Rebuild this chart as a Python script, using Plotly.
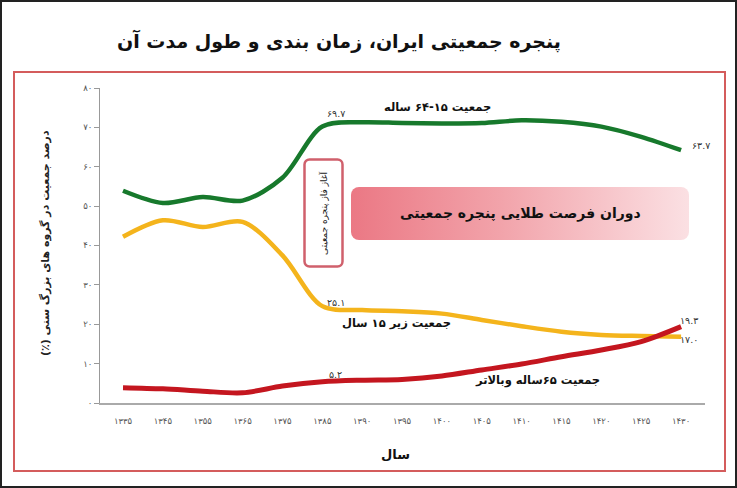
import base64
import plotly.graph_objects as go

# ---------------- data ----------------
years = ["۱۳۳۵", "۱۳۴۵", "۱۳۵۵", "۱۳۶۵", "۱۳۷۵", "۱۳۸۵", "۱۳۹۰", "۱۳۹۵",
         "۱۴۰۰", "۱۴۰۵", "۱۴۱۰", "۱۴۱۵", "۱۴۲۰", "۱۴۲۵", "۱۴۳۰"]
pop_15_64 = [53.9, 50.8, 52.3, 51.4, 57.2, 70.2, 71.3, 71.1, 71.0, 71.1, 71.8, 71.4, 70.2, 67.6, 64.2]
pop_under15 = [42.2, 46.4, 44.7, 46.0, 37.5, 24.6, 23.6, 23.3, 22.7, 21.1, 19.5, 18.1, 17.3, 17.0, 16.8]
pop_65plus = [3.9, 3.6, 3.0, 2.6, 4.3, 5.4, 5.8, 6.0, 6.85, 8.4, 9.9, 11.75, 13.45, 15.6, 19.4]
y_ticks = [0, 10, 20, 30, 40, 50, 60, 70, 80]
y_tick_text = ["۰", "۱۰", "۲۰", "۳۰", "۴۰", "۵۰", "۶۰", "۷۰", "۸۰"]

title_text = "پنجره جمعیتی ایران، زمان بندی و طول مدت آن"
x_title = "سال"
y_title = "درصد جمعیت در گروه های بزرگ سنی (٪)"
name_15_64 = "جمعیت ۱۵-۶۴ ساله"
name_under15 = "جمعیت زیر ۱۵ سال"
name_65plus = "جمعیت ۶۵ساله وبالاتر"
golden_text = "دوران فرصت طلایی پنجره جمعیتی"
start_text = "آغاز فاز پنجره جمعیتی"

FONT = "DejaVu Sans"
RLM = "\u200f"
W, H = 737, 488
L, R, T, B = 100, 32, 88, 85
PW, PH = W - L - R, H - T - B


def px(x):
    return (x - L) / PW


def py(y):
    return (H - B - y) / PH


def rtl(s):
    return RLM + s + RLM


def svg_uri(svg):
    return "data:image/svg+xml;base64," + base64.b64encode(svg.encode("utf-8")).decode()


fig = go.Figure()
for vals, color, wdt in [(pop_15_64, "#17792c", 4.5), (pop_under15, "#f4b41c", 4.5),
                         (pop_65plus, "#c4161f", 5)]:
    fig.add_trace(go.Scatter(x=years, y=vals, mode="lines",
                             line=dict(color=color, width=wdt, shape="spline", smoothing=0.9),
                             hoverinfo="skip", showlegend=False))

ann = []


def note(text, cx, cy, size, color="#111", bold=True, angle=0):
    ann.append(dict(text=rtl(text), x=px(cx), y=py(cy), xref="paper", yref="paper",
                    xanchor="center", yanchor="middle", showarrow=False, textangle=angle,
                    font=dict(size=size, color=color, family=FONT,
                              weight="bold" if bold else "normal")))


note(title_text, 339, 41, 19)
note(x_title, 395, 454, 13)
note(y_title, 45, 243, 11, color="#222", angle=-90)
note(name_15_64, 437, 107, 11.5)
note(name_under15, 396, 323, 11.5)
note(name_65plus, 537, 380, 11.5)
note(golden_text, 520, 213, 14)
note(start_text, 323, 213, 9, color="#222", bold=False, angle=-90)

# value labels anchored to data points
for txt, series, idx, xs, ys in [("۶۹.۷", pop_15_64, 5, 14, 13),
                                  ("۶۳.۷", pop_15_64, 14, 20, 5),
                                  ("۲۵.۱", pop_under15, 5, 14, 4),
                                  ("۱۷.۰", pop_under15, 14, 8, -3),
                                  ("۱۹.۳", pop_65plus, 14, 8, 6),
                                  ("۵.۲", pop_65plus, 5, 13, 7)]:
    ann.append(dict(text=txt, x=years[idx], y=series[idx], xref="x", yref="y",
                    xanchor="center", yanchor="middle",
                    xshift=xs, yshift=ys, showarrow=False,
                    font=dict(size=9.5, color="#333", family=FONT)))

golden_svg = ("<svg xmlns='http://www.w3.org/2000/svg' width='340' height='55' viewBox='0 0 340 55'>"
              "<defs><linearGradient id='g' x1='0' y1='0' x2='1' y2='0'>"
              "<stop offset='0' stop-color='#eb7884'/><stop offset='0.45' stop-color='#f2a4ab'/>"
              "<stop offset='1' stop-color='#fbe0e3'/></linearGradient></defs>"
              "<rect x='1' y='1' width='338' height='53' rx='8' ry='8' fill='url(#g)'/></svg>")
start_svg = ("<svg xmlns='http://www.w3.org/2000/svg' width='41' height='110' viewBox='0 0 41 110'>"
             "<rect x='1.5' y='1.5' width='38' height='107' rx='5' ry='5' fill='white' "
             "stroke='#d0606c' stroke-width='2.5'/></svg>")

images = [
    dict(source=svg_uri(golden_svg), xref="paper", yref="paper", x=px(350), y=py(186),
         sizex=340 / PW, sizey=55 / PH, xanchor="left", yanchor="top", sizing="stretch", layer="below"),
    dict(source=svg_uri(start_svg), xref="paper", yref="paper", x=px(303), y=py(158),
         sizex=41 / PW, sizey=110 / PH, xanchor="left", yanchor="top", sizing="stretch", layer="below"),
]

shapes = [
    dict(type="rect", xref="paper", yref="paper", x0=px(14), x1=px(725), y0=py(471), y1=py(72),
         line=dict(color="#d45c5c", width=2), fillcolor="rgba(0,0,0,0)", layer="below"),
    dict(type="rect", xref="paper", yref="paper", x0=px(1), x1=px(736), y0=py(487), y1=py(1),
         line=dict(color="#222", width=2), fillcolor="rgba(0,0,0,0)", layer="below"),
]

fig.update_layout(
    width=W, height=H, margin=dict(l=L, r=R, t=T, b=B),
    paper_bgcolor="white", plot_bgcolor="rgba(0,0,0,0)",
    font=dict(family=FONT),
    showlegend=False,
    annotations=ann, images=images, shapes=shapes,
    xaxis=dict(type="category", range=[-0.577, 14.6], showgrid=False, zeroline=False,
               showline=True, linecolor="#aaaaaa", linewidth=2, ticks="",
               ticklabelstandoff=9, tickfont=dict(size=8.5, color="#555", family=FONT)),
    yaxis=dict(range=[0, 80], tickvals=y_ticks, ticktext=y_tick_text, showgrid=False,
               zeroline=False, showline=True, linecolor="#999999", linewidth=1,
               ticks="outside", ticklen=5, tickcolor="#999999",
               tickfont=dict(size=8.5, color="#555", family=FONT)),
)

fig.write_html("out.html")
